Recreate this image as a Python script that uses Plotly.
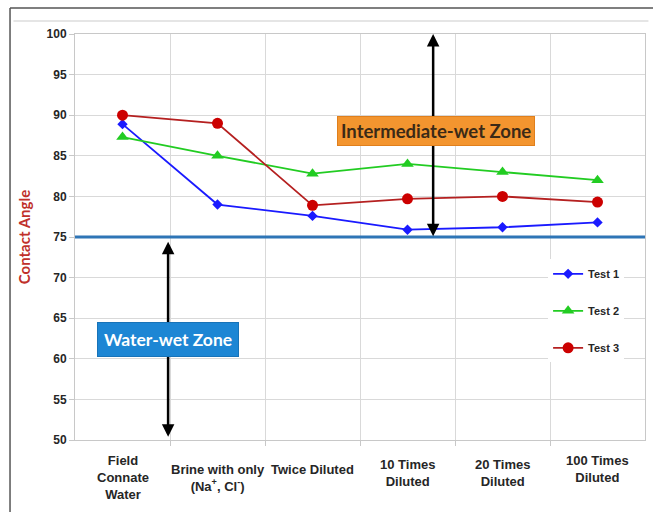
import plotly.graph_objects as go

# Categories (salinity of the brine) and contact angles per test
categories = ["Field<br>Connate<br>Water", "Brine with only<br>(Na<sup>+</sup>, Cl<sup>-</sup>)",
              "Twice Diluted", "10 Times<br>Diluted", "20 Times<br>Diluted", "100 Times<br>Diluted"]
test1 = [88.9, 79.0, 77.6, 75.9, 76.2, 76.8]
test2 = [87.3, 85.0, 82.8, 84.0, 83.0, 82.0]
test3 = [90.0, 89.0, 78.9, 79.7, 80.0, 79.3]
series_names = ["Test 1", "Test 2", "Test 3"]
y_ticks = [50, 55, 60, 65, 70, 75, 80, 85, 90, 95, 100]
wettability_boundary = 75

x_idx = list(range(len(categories)))
label_drop = [0, 9, 9, 4, 4, 0]  # vertical offset of each category label (px)

fig = go.Figure()

styles = [
    dict(color="#1a1aff", line_color="#1a1aff", symbol="diamond", size=8),
    dict(color="#22cc22", line_color="#22cc22", symbol="triangle-up", size=11),
    dict(color="#cc0000", line_color="#b52020", symbol="circle", size=11),
]
for name, vals, st in zip(series_names, [test1, test2, test3], styles):
    fig.add_trace(go.Scatter(
        x=x_idx, y=vals, name=name, mode="lines+markers", legendgroup=name,
        line=dict(color=st["line_color"], width=1.8),
        marker=dict(color=st["color"], symbol=st["symbol"], size=st["size"]),
    ))

# Water-wet / intermediate-wet boundary
fig.add_shape(type="line", xref="paper", yref="y", x0=0, x1=1,
              y0=wettability_boundary, y1=wettability_boundary,
              line=dict(color="#2e75b6", width=3))

# Double-headed arrows marking each zone
arrow_style = dict(showarrow=True, arrowhead=2, startarrowhead=2, arrowside="end+start",
                   arrowsize=1, startarrowsize=1, arrowwidth=2.5, arrowcolor="#000000",
                   axref="x", ayref="y", xref="x", yref="y", text="")
fig.add_annotation(x=0.48, y=50.4, ax=0.48, ay=wettability_boundary - 0.4, **arrow_style)
fig.add_annotation(x=3.27, y=wettability_boundary + 0.1, ax=3.27, ay=100.2, **arrow_style)

# Zone labels
fig.add_annotation(x=3.3, y=88.0, xref="x", yref="y", showarrow=False,
                   text="Intermediate-wet Zone",
                   font=dict(family="Lato", size=18.5, color="#3b2a17", weight="bold"),
                   bgcolor="#f3952f", bordercolor="#e07f1c", borderwidth=1, borderpad=3)
fig.add_annotation(x=0.48, y=62.4, xref="x", yref="y", showarrow=False,
                   text="Water-wet Zone",
                   font=dict(family="Lato", size=17.5, color="#ffffff", weight="bold"),
                   bgcolor="#1d86d4", bordercolor="#1873b8", borderwidth=1, borderpad=6)

# Category labels under the axis
for i, (lab, dy) in enumerate(zip(categories, label_drop)):
    fig.add_annotation(x=i, y=0, xref="x", yref="paper", yanchor="top", showarrow=False,
                       text=lab, yshift=-11 - dy, align="center",
                       font=dict(family="Liberation Sans", size=13, color="#262626", weight="bold"))

# Outer frame
fig.add_shape(type="line", xref="paper", yref="paper", x0=-0.114, x1=-0.114, y0=1.064, y1=-0.2,
              line=dict(color="#555555", width=1.5))
fig.add_shape(type="line", xref="paper", yref="paper", x0=-0.114, x1=1.03, y0=1.064, y1=1.064,
              line=dict(color="#555555", width=1.5))
fig.add_shape(type="line", xref="paper", yref="paper", x0=-0.108, x1=1.006, y0=1.032, y1=1.032,
              line=dict(color="#dddddd", width=1.5))

fig.update_layout(
    width=653, height=512,
    margin=dict(l=75, r=8, t=34, b=72),
    paper_bgcolor="white", plot_bgcolor="white",
    font=dict(family="Liberation Sans", color="#262626"),
    showlegend=True,
    legend=dict(x=0.83, y=0.445, xanchor="left", yanchor="top", bgcolor="white",
                tracegroupgap=18, itemwidth=30,
                font=dict(family="Liberation Sans", size=11, color="#262626", weight="bold")),
    xaxis=dict(range=[-0.5, 5.5], tickvals=x_idx, ticktext=[""] * len(x_idx),
               showgrid=False, ticks="", zeroline=False,
               showline=True, linecolor="#c8c8c8", linewidth=1, mirror=True,
               minor=dict(tickvals=[0.5, 1.5, 2.5, 3.5, 4.5], showgrid=True,
                          gridcolor="#d9d9d9", gridwidth=1, ticks="outside",
                          ticklen=5, tickcolor="#c8c8c8")),
    yaxis=dict(range=[50, 100], tickvals=y_ticks, showgrid=True, gridcolor="#d9d9d9",
               gridwidth=1, zeroline=False, ticks="outside", ticklen=5, tickcolor="#c8c8c8",
               showline=True, linecolor="#c8c8c8", linewidth=1, mirror=True,
               tickfont=dict(family="Liberation Sans", size=12, color="#262626", weight="bold"),
               title=dict(text="Contact Angle", standoff=12,
                          font=dict(family="Lato", size=15, color="#c0302a", weight="bold"))),
)

fig.write_html("out.html")
